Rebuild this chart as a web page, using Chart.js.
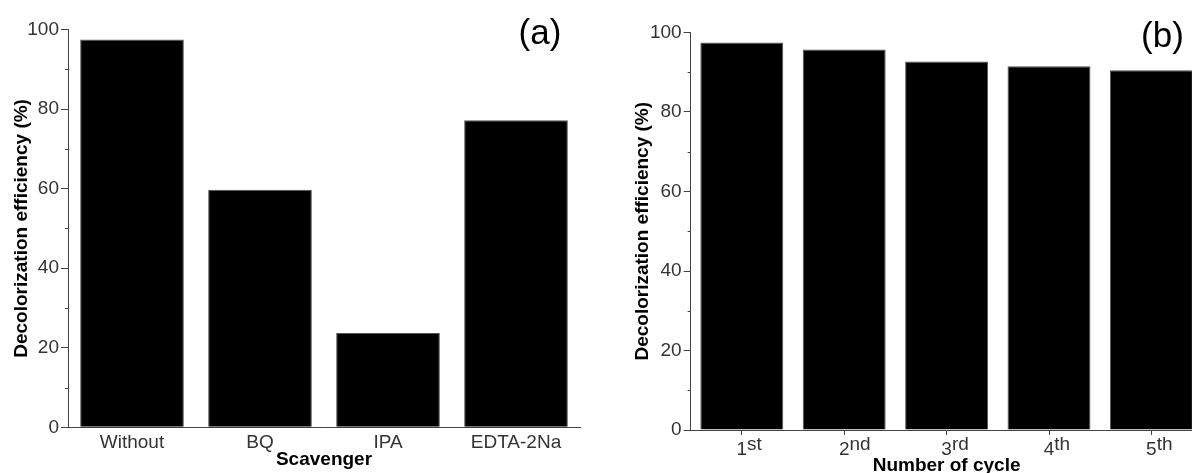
<!DOCTYPE html>
<html>
<head>
<meta charset="utf-8">
<script src="https://cdn.jsdelivr.net/npm/chart.js@4.4.1/dist/chart.umd.min.js"></script>
<style>
  html, body { margin: 0; padding: 0; background: #fff; overflow: hidden; }
  #wrap { position: relative; width: 1192px; height: 473px; overflow: hidden; }
  canvas { position: absolute; top: 0; }
  #chartA { left: 0; }
  #chartB { left: 624px; }
</style>
</head>
<body>
<div id="wrap">
  <canvas id="chartA" width="595" height="473"></canvas>
  <canvas id="chartB" width="600" height="475"></canvas>
</div>
<script>
// ── data ─────────────────────────────────────
const scavengers   = ['Without', 'BQ', 'IPA', 'EDTA-2Na'];
const scavengerEff = [97.5, 59.7, 23.7, 77.2];

const cycles   = ['1st', '2nd', '3rd', '4th', '5th'];
const cycleEff = [97.5, 95.7, 92.7, 91.5, 90.5];

const yMin = 0, yMax = 100, yStep = 20;
const yTitle = 'Decolorization efficiency (%)';

// ── look ─────────────────────────────────────
const AXIS = '#444';
const TICK = '#333';
const FONT = '"Liberation Sans", Arial, sans-serif';

Chart.defaults.font.family = FONT;
Chart.defaults.color = TICK;

// short ticks halfway between the labelled ones
const minorTicks = {
  id: 'minorTicks',
  afterDraw(chart) {
    const ys = chart.scales.y, ctx = chart.ctx, t = ys.ticks;
    ctx.save();
    ctx.strokeStyle = AXIS; ctx.lineWidth = 1;
    for (let i = 0; i < t.length - 1; i++) {
      const py = Math.round(ys.getPixelForValue((t[i].value + t[i + 1].value) / 2)) + 0.5;
      ctx.beginPath(); ctx.moveTo(ys.right - 3, py); ctx.lineTo(ys.right, py); ctx.stroke();
    }
    ctx.restore();
  }
};

// "(a)" / "(b)" corner labels
const panelLabel = {
  id: 'panelLabel',
  afterDraw(chart, args, opts) {
    const ctx = chart.ctx;
    ctx.save();
    ctx.fillStyle = '#000';
    ctx.font = '35px ' + FONT;
    ctx.textAlign = 'center';
    ctx.textBaseline = 'alphabetic';
    ctx.fillText(opts.text, opts.x, opts.y);
    ctx.restore();
  }
};

// ordinal labels with raised suffix (1st, 2nd ...)
const supLabels = {
  id: 'supLabels',
  afterDraw(chart) {
    const xs = chart.scales.x, ctx = chart.ctx;
    ctx.save();
    ctx.fillStyle = TICK;
    ctx.font = '19px ' + FONT;
    ctx.textAlign = 'left';
    ctx.textBaseline = 'alphabetic';
    chart.data.labels.forEach((lab, i) => {
      const m = lab.match(/^(\d+)(\D*)$/);
      const px = xs.getPixelForValue(i);
      const w = ctx.measureText(m[1]).width;
      ctx.fillText(m[1], px - w / 2, xs.top + 25);
      ctx.fillText(m[2], px + w / 2, xs.top + 20);
    });
    ctx.restore();
  }
};

function yAxis(width, titlePad) {
  return {
    min: yMin, max: yMax,
    ticks: { stepSize: yStep, color: TICK, font: { size: 19 }, padding: 2 },
    grid: { drawOnChartArea: false, drawTicks: true, tickLength: 7, tickColor: AXIS },
    border: { color: AXIS, width: 1 },
    title: {
      display: true, text: yTitle, color: '#000',
      font: { size: 19, weight: 'bold', lineHeight: 1 },
      padding: { top: titlePad, bottom: 0 }
    },
    afterFit: s => { s.width = width; }
  };
}

function barSet(values) {
  return [{
    data: values,
    backgroundColor: '#000',
    borderColor: '#555',
    borderWidth: 1,
    categoryPercentage: 1,
    barPercentage: 0.81
  }];
}

const common = {
  responsive: false,
  animation: false,
  events: []
};

// ── (a) scavenger ───────────────────────────
new Chart(document.getElementById('chartA'), {
  type: 'bar',
  data: { labels: scavengers, datasets: barSet(scavengerEff) },
  options: {
    ...common,
    layout: { padding: { left: 0, right: 15, top: 29.5, bottom: 0 } },
    plugins: {
      legend: { display: false }, tooltip: { enabled: false },
      panelLabel: { text: '(a)', x: 540, y: 44 }
    },
    scales: {
      x: {
        ticks: { color: TICK, font: { size: 19 }, padding: -4, maxRotation: 0, autoSkip: false },
        grid: { display: false },
        border: { color: AXIS, width: 1 },
        title: {
          display: true, text: 'Scavenger', color: '#000',
          font: { size: 19, weight: 'bold', lineHeight: 1 },
          padding: { top: 0, bottom: 4 }
        },
        afterFit: s => { s.height = 45.7; }
      },
      y: yAxis(68, 12)
    }
  },
  plugins: [minorTicks, panelLabel]
});

// ── (b) recycling ───────────────────────────
new Chart(document.getElementById('chartB'), {
  type: 'bar',
  data: { labels: cycles, datasets: barSet(cycleEff) },
  options: {
    ...common,
    layout: { padding: { left: 0, right: 21.4, top: 32.5, bottom: 0 } },
    plugins: {
      legend: { display: false }, tooltip: { enabled: false },
      panelLabel: { text: '(b)', x: 538.5, y: 47 }
    },
    scales: {
      x: {
        offset: true,
        ticks: { display: false },
        grid: { offset: false, drawOnChartArea: false, drawTicks: true, tickLength: 5, tickColor: AXIS },
        border: { color: AXIS, width: 1 },
        title: {
          display: true, text: 'Number of cycle', color: '#000',
          font: { size: 19, weight: 'bold', lineHeight: 1 },
          padding: { top: 0, bottom: 0 }
        },
        afterFit: s => { s.height = 45; }
      },
      y: yAxis(66.6, 9.5)
    }
  },
  plugins: [minorTicks, panelLabel, supLabels]
});
</script>
</body>
</html>
